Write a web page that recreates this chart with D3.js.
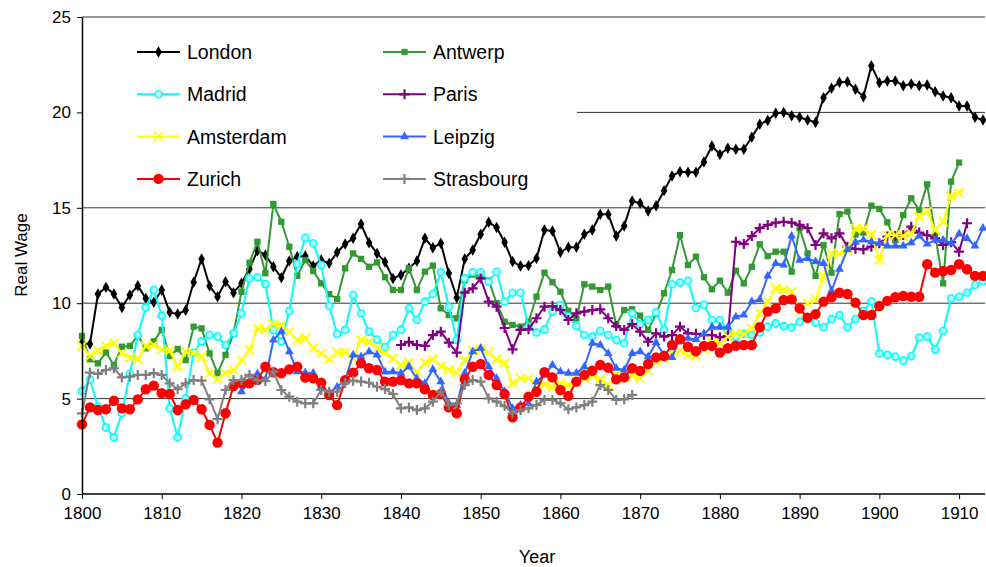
<!DOCTYPE html>
<html>
<head>
<meta charset="utf-8">
<script src="https://cdn.jsdelivr.net/npm/d3@7/dist/d3.min.js"></script>
<style>
  body { margin: 0; background: #fff; }
  svg { display: block; }
  text { font-family: "Liberation Sans", Arial, sans-serif; }
</style>
</head>
<body>
<div id="chart"></div>
<script>
/* Real wage series, one value per year from the start year */
var london = [
  7.93, 7.86, 10.48, 10.83, 10.48, 9.78, 10.43, 10.92, 10.25, 10.05,
  10.69, 9.52, 9.43, 9.63, 11.1, 12.32, 10.9, 10.34, 11.13, 10.55,
  11.04, 11.79, 12.75, 12.53, 11.91, 11.34, 12.21, 12.44, 12.47, 11.95,
  12.26, 12.09, 12.67, 13.1, 13.4, 14.15, 13.17, 12.61, 12.16, 11.3,
  11.48, 11.83, 12.21, 13.4, 12.91, 13.14, 11.57, 10.29, 12.32, 12.79,
  13.61, 14.24, 13.97, 13.19, 12.18, 11.95, 11.97, 12.35, 13.84, 13.78,
  12.67, 12.93, 12.93, 13.61, 13.84, 14.66, 14.66, 13.52, 14.05, 15.36,
  15.24, 14.83, 15.11, 15.9, 16.67, 16.89, 16.86, 16.86, 17.4, 18.24,
  17.8, 18.12, 18.07, 18.07, 18.7, 19.38, 19.57, 19.95, 20.0, 19.83,
  19.74, 19.6, 19.48, 20.77, 21.26, 21.58, 21.61, 21.21, 20.82, 22.45,
  21.56, 21.65, 21.65, 21.4, 21.49, 21.4, 21.44, 21.08, 20.86, 20.77,
  20.34, 20.34, 19.74, 19.6
];
var antwerp = [
  8.28, 7.06, 6.85, 7.42, 6.76, 7.72, 7.76, 8.3, 7.64, 8.0,
  8.6, 7.23, 7.6, 7.02, 8.77, 8.68, 7.37, 6.33, 7.29, 8.39,
  10.6, 12.12, 13.22, 11.57, 15.2, 14.27, 12.96, 11.43, 12.26, 11.69,
  11.04, 10.47, 10.22, 11.83, 12.61, 12.32, 11.91, 12.14, 11.36, 10.69,
  10.69, 11.83, 10.69, 11.65, 11.97, 9.73, 9.38, 9.21, 11.2, 11.5,
  11.4, 11.2, 10.0, 9.03, 8.86, 8.77, 9.03, 10.34, 11.6, 11.1,
  10.6, 9.6, 9.2, 10.99, 10.87, 10.69, 10.87, 8.86, 9.64, 9.68,
  9.35, 8.6, 9.43, 10.52, 11.74, 13.57, 12.0, 12.44, 11.36, 10.73,
  11.18, 10.55, 11.7, 11.04, 11.91, 13.09, 12.47, 12.7, 12.7, 11.65,
  13.93, 12.61, 11.43, 13.05, 11.6, 14.67, 14.8, 13.6, 13.7, 15.11,
  14.94, 14.24, 13.3, 14.62, 15.5, 14.88, 16.23, 13.6, 11.04, 16.37,
  17.37
];
var madrid = [
  5.4, 6.0, 4.58, 3.49, 2.97, 4.23, 6.3, 8.33, 9.78, 10.69,
  9.35, 4.49, 2.97, 5.0, 7.4, 8.0, 8.33, 8.25, 7.81, 8.42,
  9.47, 11.3, 11.36, 11.0, 8.6, 8.0, 9.59, 12.05, 13.43, 13.14,
  12.0, 9.85, 8.39, 8.6, 10.43, 9.47, 8.51, 8.1, 7.7, 8.33,
  8.6, 9.73, 9.12, 10.08, 10.48, 11.62, 9.8, 8.07, 11.3, 11.62,
  11.62, 11.13, 11.65, 10.08, 10.55, 10.55, 8.77, 8.46, 8.63, 9.56,
  9.9, 9.3, 8.8, 8.33, 8.25, 8.56, 8.33, 8.07, 7.9, 9.47,
  8.9, 9.12, 9.52, 8.6, 10.99, 11.08, 11.18, 9.75, 9.92, 9.12,
  9.12, 8.6, 8.21, 8.39, 8.33, 8.47, 8.77, 8.95, 8.8, 8.74,
  9.03, 9.21, 8.98, 8.74, 9.17, 9.38, 8.74, 9.17, 9.6, 10.1,
  7.37, 7.29, 7.2, 6.99, 7.23, 8.19, 8.25, 7.58, 8.54, 10.25,
  10.34, 10.55, 10.95, 11.16
];
var paris = [
  7.81, 7.98, 7.81, 7.76, 8.33, 8.51, 7.93, 7.41, 10.55, 10.78,
  11.3, 10.08, 9.82, 8.7, 7.58, 8.6, 8.63, 9.21, 9.82, 9.85,
  9.64, 9.12, 9.47, 9.56, 9.64, 9.68, 9.21, 8.8, 8.6, 8.9,
  8.51, 7.98, 8.42, 8.25, 8.33, 8.77, 8.42, 8.4, 8.33, 8.33,
  8.21, 8.28, 13.22, 13.1, 13.52, 13.93, 14.1, 14.22, 14.27, 14.22,
  14.1, 13.93, 13.05, 13.66, 13.4, 13.66, 12.96, 12.85, 12.82, 12.96,
  13.14, 13.49, 13.52, 13.57, 14.01, 13.7, 13.57, 13.4, 13.05, 13.2,
  12.7, 14.19
];
var amsterdam = [
  7.76, 7.23, 7.51, 7.76, 7.9, 7.37, 7.16, 7.06, 7.76, 7.81,
  7.58, 7.51, 6.67, 7.46, 7.37, 7.2, 6.33, 6.01, 6.33, 6.5,
  7.02, 7.55, 8.68, 8.6, 8.91, 8.86, 8.51, 8.07, 8.16, 7.64,
  7.37, 7.06, 7.42, 7.42, 7.11, 8.07, 7.98, 7.64, 7.37, 7.1,
  6.76, 6.88, 6.41, 6.88, 7.06, 6.71, 6.5, 6.36, 7.02, 7.51,
  7.58, 7.41, 7.06, 6.85, 5.8, 6.06, 6.06, 5.71, 5.75, 5.6,
  5.8, 5.71, 5.9, 6.06, 6.2, 6.0, 5.71, 6.3, 6.1, 6.2,
  6.06, 6.5, 6.93, 7.11, 7.37, 7.51, 7.29, 7.25, 7.6, 7.93,
  7.9, 8.25, 8.42, 8.4, 8.68, 9.47, 10.08, 10.78, 10.69, 10.6,
  9.56, 10.0, 10.2, 11.39, 12.61, 12.61, 12.79, 13.9, 13.9, 13.6,
  12.26, 13.57, 13.57, 13.52, 13.66, 14.57, 14.8, 13.84, 14.27, 15.62,
  15.79
];
var leipzig = [
  5.36, 5.9, 6.3, 6.0, 8.07, 8.51, 7.46, 6.41, 6.36, 6.33,
  5.62, 5.31, 5.62, 5.97, 7.29, 7.2, 7.46, 7.29, 6.4, 6.41,
  6.33, 6.67, 6.06, 5.8, 6.53, 5.89, 4.75, 4.66, 6.33, 7.46,
  7.64, 6.67, 6.06, 5.36, 4.49, 4.66, 4.75, 5.89, 6.24, 6.76,
  6.41, 6.33, 6.33, 6.67, 7.9, 7.81, 7.37, 6.59, 6.5, 7.37,
  7.46, 7.2, 7.93, 7.29, 7.16, 8.16, 8.16, 8.1, 8.4, 8.74,
  8.74, 8.74, 9.29, 9.38, 10.08, 10.2, 11.43, 12.09, 12.0, 13.52,
  12.26, 12.35, 12.18, 12.09, 10.64, 11.78, 12.82, 13.2, 13.31, 13.22,
  13.14, 13.0, 13.0, 13.0, 13.17, 13.52, 13.1, 13.31, 13.31, 13.14,
  13.63, 13.4, 13.0, 13.93
];
var zurich = [
  3.65, 4.54, 4.4, 4.44, 4.89, 4.49, 4.44, 4.96, 5.49, 5.68,
  5.28, 5.24, 4.4, 4.7, 4.93, 4.44, 3.62, 2.69, 4.23, 5.66,
  5.8, 5.8, 5.97, 6.67, 6.38, 6.33, 6.53, 6.67, 6.1, 6.06,
  5.83, 5.19, 4.66, 5.97, 6.36, 6.85, 6.59, 6.5, 5.89, 5.89,
  5.97, 5.8, 5.8, 5.49, 5.19, 5.24, 4.54, 4.23, 6.01, 6.67,
  6.81, 6.24, 5.71, 5.24, 4.02, 4.54, 5.1, 5.36, 6.38, 6.11,
  5.45, 5.14, 5.89, 6.24, 6.46, 6.76, 6.62, 6.01, 6.11, 6.59,
  6.45, 6.81, 7.16, 7.23, 7.81, 8.11, 7.72, 7.48, 7.76, 7.76,
  7.41, 7.64, 7.77, 7.81, 7.81, 8.74, 9.56, 9.73, 10.17, 10.2,
  9.73, 9.24, 9.43, 10.08, 10.31, 10.55, 10.48, 10.03, 9.38, 9.38,
  9.85, 10.12, 10.31, 10.38, 10.34, 10.34, 12.04, 11.6, 11.69, 11.74,
  12.04, 11.78, 11.43, 11.43
];
var strasbourg = [
  4.23, 6.36, 6.29, 6.5, 6.59, 6.11, 6.15, 6.24, 6.24, 6.33,
  6.24, 5.8, 5.49, 5.8, 5.97, 5.94, 4.96, 3.92, 5.45, 5.97,
  5.97, 6.24, 5.97, 5.92, 6.41, 5.45, 5.1, 4.84, 4.75, 4.75,
  5.45, 5.36, 5.36, 5.8, 5.94, 5.89, 5.83, 5.62, 5.5, 5.24,
  4.49, 4.54, 4.4, 4.49, 4.84, 5.36, 4.66, 4.75, 5.71, 5.97,
  5.89, 5.01, 4.84, 4.61, 4.23, 4.4, 4.49, 4.66, 4.93, 4.93,
  4.75, 4.44, 4.54, 4.66, 4.84, 5.71, 5.45, 4.93, 4.96, 5.19
];

var yTicks = [0, 5, 10, 15, 20, 25];
var xTicks = [1800, 1810, 1820, 1830, 1840, 1850, 1860, 1870, 1880, 1890, 1900, 1910];

/* series in legend order (row by row) */
var series = [
  {name: "London",     start: 1800, values: london,     color: "#000000", mark: "diamond"},
  {name: "Antwerp",    start: 1800, values: antwerp,    color: "#339933", mark: "square"},
  {name: "Madrid",     start: 1800, values: madrid,     color: "#00ffff", mark: "ring"},
  {name: "Paris",      start: 1840, values: paris,      color: "#800080", mark: "plus"},
  {name: "Amsterdam",  start: 1800, values: amsterdam,  color: "#ffff00", mark: "cross"},
  {name: "Leipzig",    start: 1820, values: leipzig,    color: "#3366ff", mark: "triangle"},
  {name: "Zurich",     start: 1800, values: zurich,     color: "#ff0000", mark: "dot"},
  {name: "Strasbourg", start: 1800, values: strasbourg, color: "#808080", mark: "plus"}
];

var width = 986, height = 567;
var svg = d3.select("#chart").append("svg").attr("width", width).attr("height", height);

var x = d3.scaleLinear().domain([1800, 1913]).range([82, 983]);
var y = d3.scaleLinear().domain([0, 25]).range([494, 17]);

/* gridlines */
svg.append("g").selectAll("line").data(yTicks.filter(function(d) { return d > 0; }))
  .enter().append("line")
  .attr("x1", 82).attr("x2", 985)
  .attr("y1", function(d) { return y(d); }).attr("y2", function(d) { return y(d); })
  .attr("stroke", "#333").attr("stroke-width", 1);

/* legend box hides the grid behind it */
svg.append("rect").attr("x", 83).attr("y", 22).attr("width", 494).attr("height", 176).attr("fill", "#fff");

function drawMark(g, kind, color) {
  if (kind == "diamond") {
    g.append("path").attr("d", d3.symbol(d3.symbolDiamond, 38)()).attr("fill", color);
  } else if (kind == "square") {
    g.append("path").attr("d", d3.symbol(d3.symbolSquare, 40)()).attr("fill", color);
  } else if (kind == "triangle") {
    g.append("path").attr("d", d3.symbol(d3.symbolTriangle, 34)()).attr("fill", color);
  } else if (kind == "ring") {
    g.append("circle").attr("r", 3.5).attr("fill", "#b8ffff").attr("stroke", color).attr("stroke-width", 1.6);
  } else if (kind == "dot") {
    g.append("circle").attr("r", 5.2).attr("fill", color);
  } else if (kind == "plus") {
    g.append("path").attr("d", "M-5,0H5M0,-5V5").attr("stroke", color).attr("stroke-width", 2.2);
  } else if (kind == "cross") {
    g.append("path").attr("d", "M-4.5,-4.5L4.5,4.5M-4.5,4.5L4.5,-4.5").attr("stroke", color).attr("stroke-width", 2);
  }
}

var line = d3.line()
  .defined(function(d) { return d.v != null; })
  .x(function(d) { return x(d.year); })
  .y(function(d) { return y(d.v); });

series.forEach(function(s) {
  var pts = s.values.map(function(v, i) { return {year: s.start + i, v: v}; });
  var g = svg.append("g");
  g.append("path").datum(pts).attr("d", line)
    .attr("fill", "none").attr("stroke", s.color).attr("stroke-width", 2).attr("stroke-linejoin", "round");
  pts.forEach(function(p) {
    var m = g.append("g").attr("transform", "translate(" + x(p.year) + "," + y(p.v) + ")");
    drawMark(m, s.mark, s.color);
  });
});

/* axes */
var yAxis = d3.axisLeft(y).tickValues(yTicks).tickSize(5).tickSizeOuter(0).tickPadding(6);
var gy = svg.append("g").attr("transform", "translate(82,0)").call(yAxis);
var xAxis = d3.axisBottom(x).tickValues(xTicks).tickSize(5).tickSizeOuter(0).tickPadding(8).tickFormat(d3.format("d"));
var gx = svg.append("g").attr("transform", "translate(0,494)").call(xAxis);
[gy, gx].forEach(function(g) {
  g.select(".domain").attr("stroke", "#000").attr("stroke-width", 1.5);
  g.selectAll(".tick line").attr("stroke", "#000");
  g.selectAll("text").attr("font-size", 17).attr("fill", "#000")
    .style("font-family", '"Liberation Sans", Arial, sans-serif');
});
gx.select(".domain").attr("d", "M82,0H985");

svg.append("text").attr("transform", "translate(27,255) rotate(-90)")
  .attr("text-anchor", "middle").attr("font-size", 17).text("Real Wage");
svg.append("text").attr("x", 537).attr("y", 563)
  .attr("text-anchor", "middle").attr("font-size", 18).text("Year");

/* legend: two columns, filled row by row */
var legend = svg.append("g");
series.forEach(function(s, i) {
  var col = i % 2, row = Math.floor(i / 2);
  var lx = col == 0 ? 137 : 383;
  var ly = 52 + row * 42.3;
  var g = legend.append("g").attr("transform", "translate(" + lx + "," + ly + ")");
  g.append("line").attr("x1", 0).attr("x2", 43).attr("stroke", s.color).attr("stroke-width", 2);
  var m = g.append("g").attr("transform", "translate(21.5,0)");
  drawMark(m, s.mark, s.color);
  g.append("text").attr("x", 50).attr("y", 7).attr("font-size", 19.5).text(s.name);
});
</script>
</body>
</html>
